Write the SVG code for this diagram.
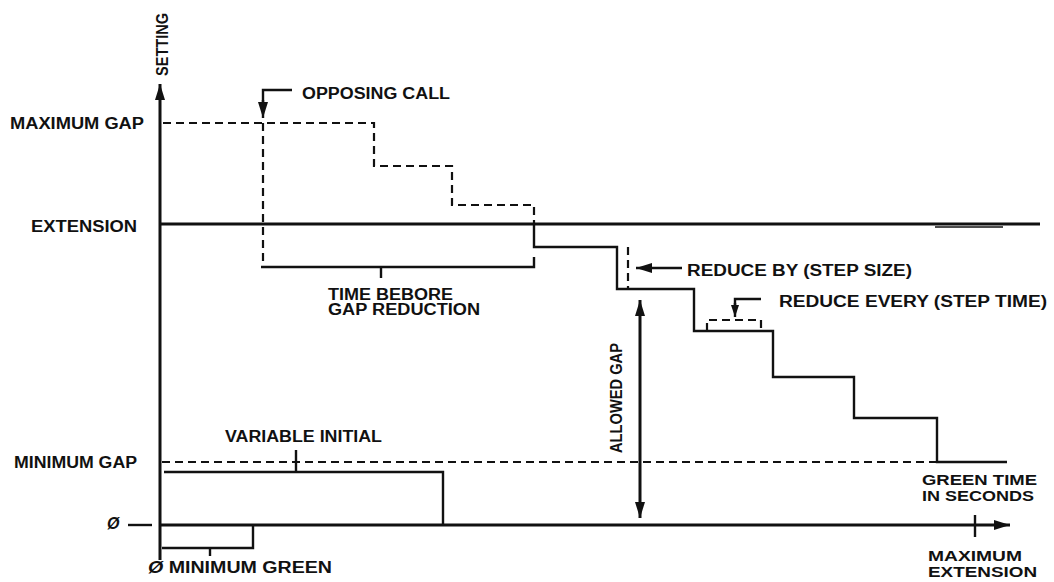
<svg xmlns="http://www.w3.org/2000/svg" width="1054" height="582" viewBox="0 0 1054 582">
<style>
text{font-family:"Liberation Sans",Arial,sans-serif;font-weight:bold;fill:#111;}
.l{font-size:16px;}
.m{font-size:16px;}
.n{font-size:15px;}
.k{font-size:14px;}
.s{stroke:#111;stroke-width:2.4;fill:none;}
.t{stroke:#111;stroke-width:3;fill:none;}
.d{stroke:#111;stroke-width:2.2;fill:none;stroke-dasharray:8 5;}
.o{font-style:italic;}
</style>
<defs>
<marker id="ah" markerUnits="userSpaceOnUse" markerWidth="16" markerHeight="10" refX="16" refY="5" orient="auto"><path d="M0,0 L16,5 L0,10 z" fill="#111"/></marker>
<marker id="ahs" markerUnits="userSpaceOnUse" markerWidth="12" markerHeight="8" refX="12" refY="4" orient="auto"><path d="M0,0 L12,4 L0,8 z" fill="#111"/></marker>
</defs>
<rect width="1054" height="582" fill="#fff"/>

<g id="axes">
<line class="t" x1="160" y1="560" x2="160" y2="84" marker-end="url(#ah)"/>
<line class="t" x1="160" y1="525" x2="1010" y2="525" marker-end="url(#ah)"/>
<line class="s" x1="975" y1="515" x2="975" y2="537"/>
<line class="s" x1="128" y1="525" x2="152" y2="525"/>
<text class="m" transform="translate(168,76) rotate(-90)" textLength="63" lengthAdjust="spacingAndGlyphs">SETTING</text>
</g>

<g id="extension-line">
<line class="t" x1="160" y1="224" x2="1040" y2="224"/>
<line stroke="#111" stroke-width="1.5" x1="935" y1="227" x2="1003" y2="227"/>
</g>

<g id="maximum-gap-dashed">
<path class="d" d="M163,123 H374 V166 H452 V205 H534 V224"/>
</g>

<g id="opposing-call">
<path class="d" d="M263,123 V262"/>
<path class="s" d="M292,90 H263 V102"/>
<line class="s" x1="263" y1="100" x2="263" y2="118" marker-end="url(#ah)"/>
<text class="m" x="302" y="99" textLength="148" lengthAdjust="spacingAndGlyphs">OPPOSING CALL</text>
</g>

<g id="time-before-gap-reduction">
<path class="s" d="M261,267 H534 V257"/>
<line class="s" x1="381" y1="267" x2="381" y2="278"/>
<text class="m" x="328" y="300" textLength="125" lengthAdjust="spacingAndGlyphs">TIME BEBORE</text>
<text class="m" x="328" y="315" textLength="152" lengthAdjust="spacingAndGlyphs">GAP REDUCTION</text>
</g>

<g id="allowed-gap-steps">
<path class="s" d="M534,224 V247 H617 V289 H694 V331 H773 V377 H854 V418 H937 V462 H1007"/>
</g>

<g id="reduce-by">
<path class="d" d="M628,247 V289" stroke-dasharray="6 4"/>
<line class="s" x1="682" y1="268" x2="636" y2="268" marker-end="url(#ah)"/>
<text class="m" x="687" y="276" textLength="225" lengthAdjust="spacingAndGlyphs">REDUCE BY (STEP SIZE)</text>
</g>

<g id="reduce-every">
<path class="d" d="M707,331 V320 H761 V331" stroke-dasharray="7 4"/>
<path class="s" d="M761,299 H735 V305"/>
<line class="s" x1="735" y1="303" x2="735" y2="317" marker-end="url(#ahs)"/>
<text class="m" x="779" y="307" textLength="268" lengthAdjust="spacingAndGlyphs">REDUCE EVERY (STEP TIME)</text>
</g>

<g id="allowed-gap">
<line class="t" x1="640" y1="400" x2="640" y2="300" marker-end="url(#ah)"/>
<line class="t" x1="640" y1="400" x2="640" y2="518" marker-end="url(#ah)"/>
<text class="l" transform="translate(622,453) rotate(-90)" textLength="110" lengthAdjust="spacingAndGlyphs">ALLOWED GAP</text>
</g>

<g id="minimum-gap">
<path class="d" d="M162,462 H937"/>
</g>

<g id="variable-initial">
<path class="s" d="M164,472 H443 V525"/>
<line class="s" x1="296" y1="450" x2="296" y2="472"/>
<text class="l" x="225" y="442" textLength="157" lengthAdjust="spacingAndGlyphs">VARIABLE INITIAL</text>
</g>

<g id="minimum-green">
<path class="s" d="M162,548 H253 V525"/>
<line class="s" x1="210" y1="548" x2="210" y2="556"/>
<text class="l" x="148" y="573" textLength="184" lengthAdjust="spacingAndGlyphs"><tspan class="o">Ø</tspan> MINIMUM GREEN</text>
</g>

<g id="labels">
<text class="l" x="10" y="129" textLength="134" lengthAdjust="spacingAndGlyphs">MAXIMUM GAP</text>
<text class="l" x="31" y="232" textLength="106" lengthAdjust="spacingAndGlyphs">EXTENSION</text>
<text class="l" x="14" y="468" textLength="123" lengthAdjust="spacingAndGlyphs">MINIMUM GAP</text>
<text class="l o" x="107" y="529" font-size="18">Ø</text>
<text class="n" x="922" y="485" textLength="115" lengthAdjust="spacingAndGlyphs">GREEN TIME</text>
<text class="n" x="922" y="501" textLength="112" lengthAdjust="spacingAndGlyphs">IN SECONDS</text>
<text class="k" x="928" y="561" textLength="94" lengthAdjust="spacingAndGlyphs">MAXIMUM</text>
<text class="k" x="928" y="577" textLength="109" lengthAdjust="spacingAndGlyphs">EXTENSION</text>
</g>
</svg>
